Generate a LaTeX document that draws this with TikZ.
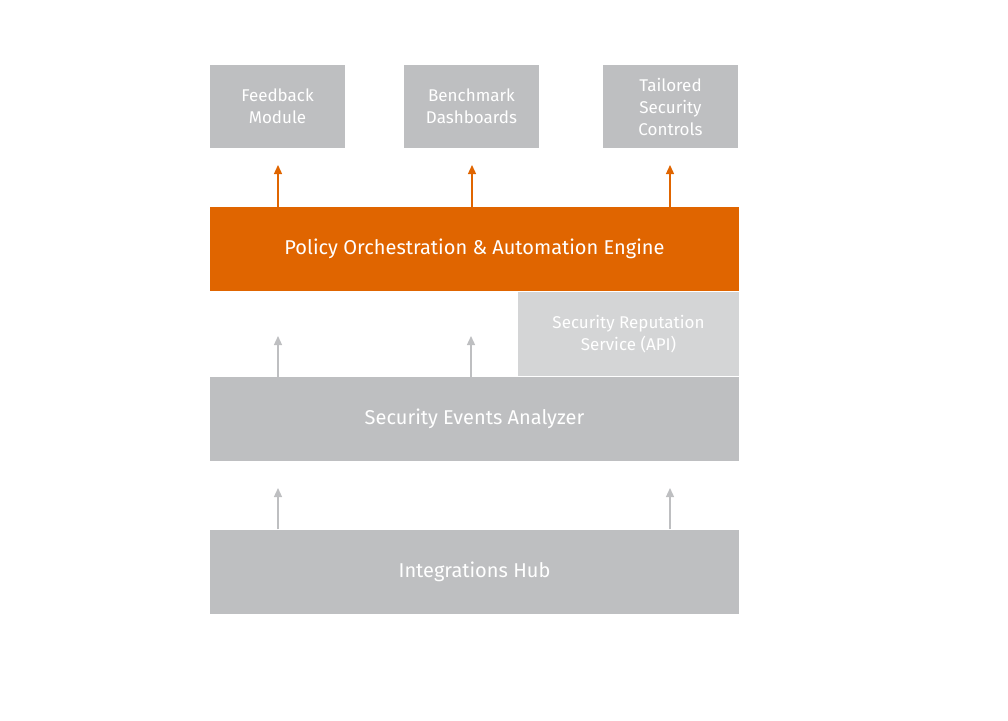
\documentclass[tikz,border=0pt]{standalone}
\usepackage{fontspec}
\setmainfont{Fira Sans}
\usetikzlibrary{arrows.meta, positioning}
\definecolor{engorange}{HTML}{E06500}
\definecolor{boxgray}{HTML}{BEBFC1}
\definecolor{lightgray}{HTML}{D4D5D6}
\tikzset{
    block/.style={rectangle, fill=boxgray, text=white, align=center, inner sep=0pt, font=\fontsize{17}{22}\selectfont},
    layer/.style={block, minimum width=529pt, minimum height=84pt, font=\fontsize{20}{24}\selectfont},
    arrow/.style={line width=1.3pt, -{Triangle[length=9pt, width=8pt]}}
}
\begin{document}
\begin{tikzpicture}[x=1pt, y=-1pt]
    \useasboundingbox (0,0) rectangle (1008,720);
    % output modules
    \node[block, minimum width=135pt, minimum height=83pt] (feed) at (277.5,106.5) {Feedback\\Module};
    \node[block, minimum width=135pt, minimum height=83pt] (bench) at (471.5,106.5) {Benchmark\\Dashboards};
    \node[block, minimum width=135pt, minimum height=83pt] (tail) at (670.5,106.5) {Tailored\\Security\\Controls};
    % layers
    \node[layer, fill=engorange] (engine) at (474.5,249) {Policy Orchestration \& Automation Engine};
    \node[block, fill=lightgray, minimum width=221pt, minimum height=84pt] (rep) at (628.5,334) {Security Reputation\\Service (API)};
    \node[layer] (ana) at (474.5,419) {Security Events Analyzer};
    \node[layer] (hub) at (474.5,571.5) {Integrations Hub};
    % arrow ends
    \coordinate (e1) at (278,165);
    \coordinate (e2) at (472,165);
    \coordinate (e3) at (670,165);
    \coordinate (a1) at (278,336);
    \coordinate (a2) at (471,336);
    \coordinate (h1) at (278,488);
    \coordinate (h2) at (670,488);

    \draw[arrow, engorange] (engine.north -| e1) -- (e1);
    \draw[arrow, engorange] (engine.north -| e2) -- (e2);
    \draw[arrow, engorange] (engine.north -| e3) -- (e3);
    \draw[arrow, boxgray] (ana.north -| a1) -- (a1);
    \draw[arrow, boxgray] (ana.north -| a2) -- (a2);
    \draw[arrow, boxgray] (hub.north -| h1) -- (h1);
    \draw[arrow, boxgray] (hub.north -| h2) -- (h2);
\end{tikzpicture}
\end{document}
